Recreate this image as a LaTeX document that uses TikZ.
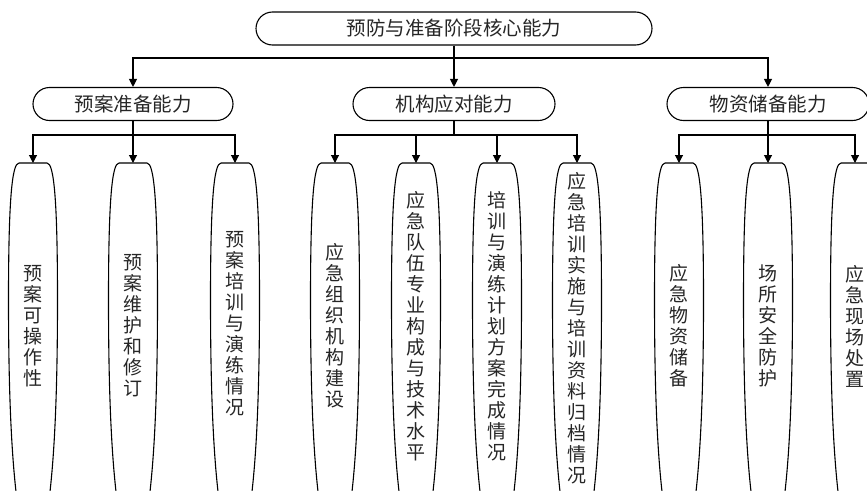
\documentclass[tikz,border=0pt]{standalone}
\usepackage{fontspec}
\newfontfamily\cjk{Noto Sans CJK SC}
\usetikzlibrary{arrows.meta}
\newcommand\leafpath[1]{%
  \draw ({#1-14},163) -- ({#1+14},163)
    .. controls ({#1+21},163) and ({#1+24.5},200) .. ({#1+24.5},300)
    .. controls ({#1+24.5},400) and ({#1+21},460) .. ({#1+16},500);
  \draw ({#1-14},163)
    .. controls ({#1-21},163) and ({#1-24.5},200) .. ({#1-24.5},300)
    .. controls ({#1-24.5},400) and ({#1-21},460) .. ({#1-16},500);
  \coordinate (t#1) at (#1,163);
}
\begin{document}
\begin{tikzpicture}[x=1pt,y=-1pt, line width=1.1pt,
  arr/.style={-{Triangle[length=8pt,width=8pt]}},
  capsule/.style={draw, rounded corners=16.5pt, minimum height=33pt, inner sep=0pt,
    text=black!85, font=\cjk\fontsize{19.5}{24}\selectfont},
  vtext/.style={align=center, inner sep=0pt, text=black!85,
    font=\cjk\fontsize{19}{21}\selectfont}]
\useasboundingbox (0,0) rectangle (867,490);

\node[capsule, minimum width=396pt] (top) at (454,28.5) {预防与准备阶段核心能力};
\node[capsule, minimum width=200pt] (m1) at (133,104) {预案准备能力};
\node[capsule, minimum width=202pt] (m2) at (454,104) {机构应对能力};
\node[capsule, minimum width=202pt] (m3) at (768,104) {物资储备能力};

\coordinate (b0) at (454,58);
\draw (top.south) -- (b0);
\draw[arr] (b0) -| (m1.north);
\draw[arr] (b0) -- (m2.north);
\draw[arr] (b0) -| (m3.north);

\foreach \c in {33,133,235,335,416,497,577,679,768,855} {\leafpath{\c}}

\coordinate (b1) at (133,135);
\coordinate (b2) at (454,135);
\coordinate (b3) at (768,135);
\draw (m1.south) -- (b1);
\draw (m2.south) -- (b2);
\draw (m3.south) -- (b3);
\draw[arr] (b1) -| (t33);
\draw[arr] (b1) -- (t133);
\draw[arr] (b1) -| (t235);
\draw[arr] (b2) -| (t335);
\draw[arr] (b2) -| (t416);
\draw[arr] (b2) -| (t497);
\draw[arr] (b2) -| (t577);
\draw[arr] (b3) -| (t679);
\draw[arr] (b3) -- (t768);
\draw[arr] (b3) -| (t855);

\node[vtext] (l1) at (33,326) {预\\案\\可\\操\\作\\性};
\node[vtext] (l2) at (133,326) {预\\案\\维\\护\\和\\修\\订};
\node[vtext] (l3) at (235,324) {预\\案\\培\\训\\与\\演\\练\\情\\况};
\node[vtext] (l4) at (335,326) {应\\急\\组\\织\\机\\构\\建\\设};
\node[vtext] (l5) at (416,326) {应\\急\\队\\伍\\专\\业\\构\\成\\与\\技\\术\\水\\平};
\node[vtext] (l6) at (497,326) {培\\训\\与\\演\\练\\计\\划\\方\\案\\完\\成\\情\\况};
\node[vtext] (l7) at (577,328) {应\\急\\培\\训\\实\\施\\与\\培\\训\\资\\料\\归\\档\\情\\况};
\node[vtext] (l8) at (679,326) {应\\急\\物\\资\\储\\备};
\node[vtext] (l9) at (768,326) {场\\所\\安\\全\\防\\护};
\node[vtext] (l10) at (855,326) {应\\急\\现\\场\\处\\置};
\end{tikzpicture}
\end{document}
